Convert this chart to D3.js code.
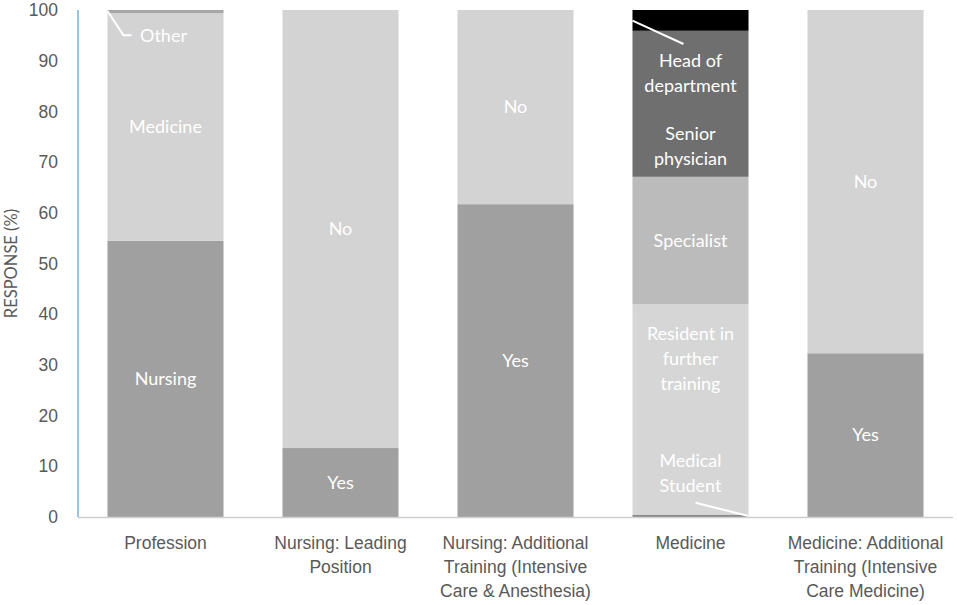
<!DOCTYPE html>
<html>
<head>
<meta charset="utf-8">
<script src="https://cdn.jsdelivr.net/npm/d3@7"></script>
<style>
  body { margin: 0; background: #fff; }
  svg { font-family: Lato, "Open Sans", sans-serif; }
</style>
</head>
<body>
<div id="chart"></div>
<script>
// categories along the x axis (line breaks as in the original)
const categories = [
    "Profession",
    "Nursing: Leading\nPosition",
    "Nursing: Additional\nTraining (Intensive\nCare & Anesthesia)",
    "Medicine",
    "Medicine: Additional\nTraining (Intensive\nCare Medicine)"
];

// segments of each bar, bottom to top
const segNames = [
    ["Nursing", "Medicine", "Other"],
    ["Yes", "No"],
    ["Yes", "No"],
    ["Medical Student", "Resident in further training", "Specialist", "Senior physician", "Head of department"],
    ["Yes", "No"]
];
const segValues = [
    [54.5, 44.9, 0.6],
    [13.6, 86.4],
    [61.7, 38.3],
    [0.4, 41.6, 25.1, 28.8, 4.1],
    [32.3, 67.7]
];

const yTicks = [0, 10, 20, 30, 40, 50, 60, 70, 80, 90, 100];

// segment colours
const colorOf = {
    "Nursing": "#a0a0a0",
    "Medicine": "#d3d3d3",
    "Other": "#a6a6a6",
    "Yes": "#a0a0a0",
    "No": "#d3d3d3",
    "Medical Student": "#8a8a8a",
    "Resident in further training": "#d6d6d6",
    "Specialist": "#bbbbbb",
    "Senior physician": "#6f6f6f",
    "Head of department": "#000000"
};

// label text (lines) and where the label sits when it is moved off the segment centre
const labelText = {
    "Resident in further training": ["Resident in", "further", "training"],
    "Senior physician": ["Senior", "physician"],
    "Head of department": ["Head of", "department"],
    "Medical Student": ["Medical", "Student"]
};
const labelAt = {
    "Other": 95,
    "Resident in further training": 31.2,
    "Senior physician": 73.2,
    "Head of department": 87.6,
    "Medical Student": 8.6
};

const width = 957, height = 605;
const margin = { top: 10, right: 4, bottom: 88, left: 78 };

const svg = d3.select("#chart").append("svg")
    .attr("width", width)
    .attr("height", height);

const x = d3.scaleBand()
    .domain(categories)
    .range([margin.left, width - margin.right])
    .paddingInner(0.337)
    .paddingOuter(0.1685);

const y = d3.scaleLinear()
    .domain([0, 100])
    .range([height - margin.bottom, margin.top]);

// y axis labels
const yAxis = svg.append("g")
    .attr("transform", `translate(${margin.left},0)`)
    .call(d3.axisLeft(y).tickValues(yTicks).tickSize(0).tickPadding(20));
yAxis.select(".domain").remove();
yAxis.selectAll("text")
    .attr("fill", "#595959")
    .style("font-size", "17.5px");

// build the stacked segments
const segs = [];
categories.forEach((c, i) => {
    const ends = d3.cumsum(segValues[i]);
    segNames[i].forEach((name, j) => {
        segs.push({ cat: c, name: name, y0: ends[j] - segValues[i][j], y1: ends[j] });
    });
});

svg.append("g")
    .selectAll("rect")
    .data(segs)
    .join("rect")
    .attr("x", d => x(d.cat))
    .attr("width", x.bandwidth())
    .attr("y", d => y(d.y1))
    .attr("height", d => y(d.y0) - y(d.y1))
    .attr("fill", d => colorOf[d.name]);

// baseline and blue value axis line
svg.append("line")
    .attr("x1", margin.left).attr("x2", width - margin.right)
    .attr("y1", y(0) + 0.5).attr("y2", y(0) + 0.5)
    .attr("stroke", "#d0d0d0").attr("stroke-width", 1.5);
svg.append("line")
    .attr("x1", margin.left).attr("x2", margin.left)
    .attr("y1", y(100)).attr("y2", y(0))
    .attr("stroke", "#5b9bd5").attr("stroke-width", 1.2);

// leader lines for the thin segments
const other = segs.find(d => d.name === "Other");
const head = segs.find(d => d.name === "Head of department");
const student = segs.find(d => d.name === "Medical Student");
const leaders = [
    [[x(other.cat), y(other.y0 + 0.4)], [x(other.cat) + 16, y(95)], [x(other.cat) + 24, y(95)]],
    [[x(head.cat), y(head.y0 + 2)], [x(head.cat) + 51, y(93.3)]],
    [[x(student.cat) + x.bandwidth(), y(student.y1 - 0.2)], [x(student.cat) + 63, y(2.8)]]
];
svg.append("g")
    .selectAll("path")
    .data(leaders)
    .join("path")
    .attr("d", d3.line())
    .attr("fill", "none")
    .attr("stroke", "#fff")
    .attr("stroke-width", 2);

// data labels
const lbl = svg.append("g")
    .attr("fill", "#fff")
    .style("font-size", "18px")
    .attr("text-anchor", "middle");
segs.forEach(d => {
    const lines = labelText[d.name] || [d.name];
    const v = labelAt[d.name] !== undefined ? labelAt[d.name] : (d.y0 + d.y1) / 2;
    let cx = x(d.cat) + x.bandwidth() / 2;
    if (d.name === "Other") cx = x(d.cat) + 56;
    const t = lbl.append("text")
        .attr("x", cx)
        .attr("y", y(v) - (lines.length - 1) * 12.5)
        .attr("dy", "0.35em");
    lines.forEach((l, k) => {
        t.append("tspan")
            .attr("x", cx)
            .attr("dy", k === 0 ? "0.35em" : 25)
            .text(l);
    });
});

// category labels
const xAxis = svg.append("g")
    .attr("transform", `translate(0,${y(0)})`)
    .call(d3.axisBottom(x).tickSize(0).tickFormat(""));
xAxis.select(".domain").remove();
xAxis.selectAll(".tick").each(function (c) {
    const t = d3.select(this).append("text")
        .attr("fill", "#595959")
        .attr("text-anchor", "middle")
        .style("font-size", "17.5px")
        .attr("y", 32);
    c.split("\n").forEach((l, k) => {
        t.append("tspan").attr("x", 0).attr("dy", k === 0 ? 0 : 24).text(l);
    });
});

// axis title
svg.append("text")
    .attr("transform", `translate(17,${(y(0) + y(100)) / 2}) rotate(-90)`)
    .attr("text-anchor", "middle")
    .attr("fill", "#595959")
    .style("font-size", "16.5px")
    .text("RESPONSE (%)");
</script>
</body>
</html>
